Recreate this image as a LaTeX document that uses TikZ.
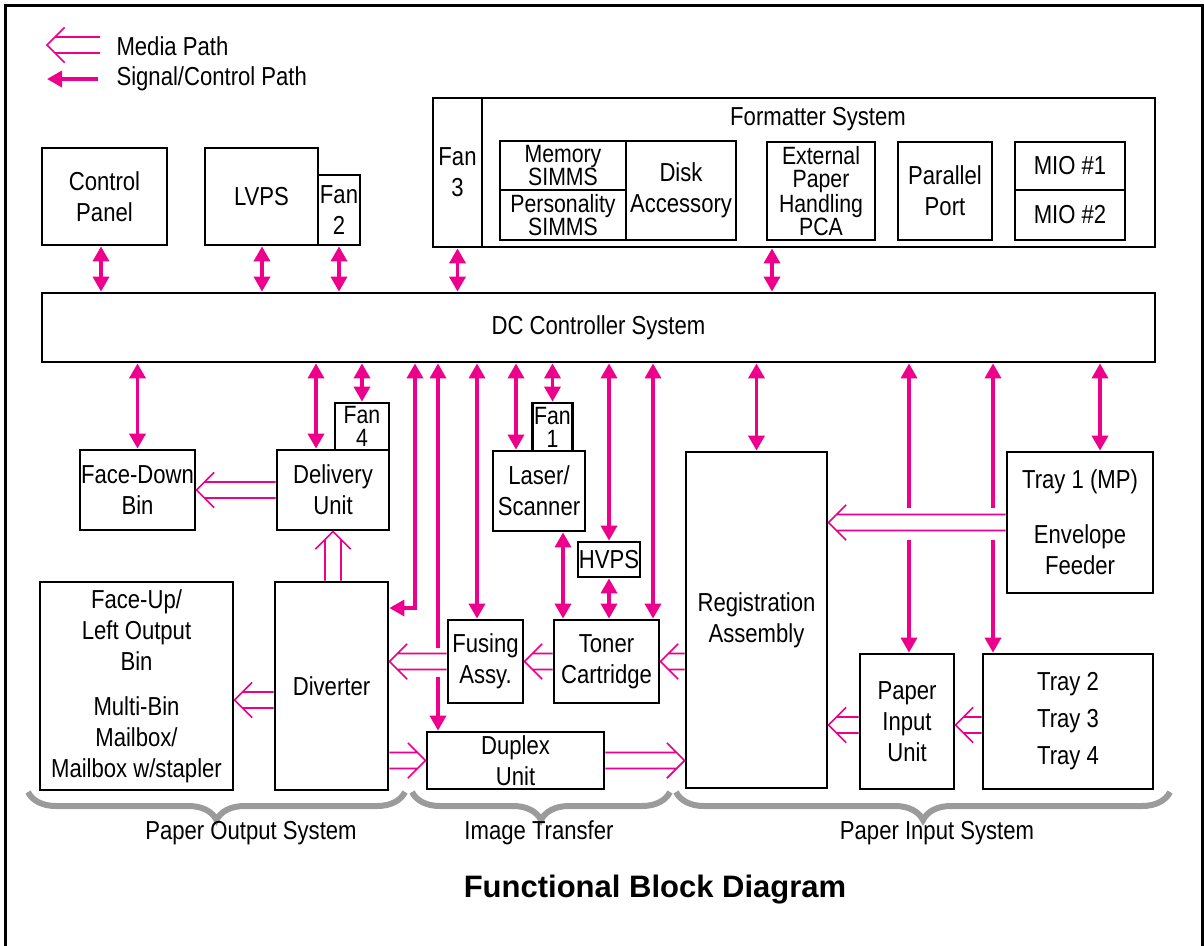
\documentclass[tikz,border=0pt]{standalone}
\usepackage{fontspec}
\setmainfont{Liberation Sans}[FakeStretch=0.85]
\newfontfamily\titlefont{Liberation Sans}
\usepackage{tikz}
\usetikzlibrary{arrows.meta,calc,decorations.pathreplacing}
\definecolor{FBPink}{HTML}{EC008C}
\definecolor{FBBrace}{HTML}{9B9B9B}
\tikzset{
  box/.style={draw, line width=2.8pt, align=center, inner sep=0pt},
  tight/.style={font=\fontsize{25}{23}\selectfont},
  sig/.style={draw=FBPink, line width=3.5pt, >={Triangle[length=15pt,width=16pt]}},
  media/.style={draw=FBPink, line width=1.6pt, to path={
    ($(\tikztostart)!8pt!90:(\tikztotarget)$) -- ($(\tikztotarget)!8pt!(\tikztostart)!8pt!-90:(\tikztostart)$)
    ($(\tikztostart)!8pt!-90:(\tikztotarget)$) -- ($(\tikztotarget)!8pt!(\tikztostart)!8pt!90:(\tikztostart)$)
    ($(\tikztotarget)!25pt!45:(\tikztostart)$) -- (\tikztotarget) -- ($(\tikztotarget)!25pt!-45:(\tikztostart)$)}},
  brace/.style={draw=FBBrace, line width=6pt, decorate, decoration={brace, mirror, amplitude=28pt}},
}

\begin{document}
\begin{tikzpicture}[x=1pt,y=-1pt,font=\fontsize{26}{31}\selectfont]
\useasboundingbox (0,0) rectangle (1204,945);
\draw[line width=3pt] (5.5,950) -- (5.5,5.5) -- (1202.5,5.5) -- (1202.5,950);

\coordinate (lm0) at (100,45);
\coordinate (lm1) at (47,45);
\draw[media] (lm0) to (lm1);
\node[anchor=west] (lmtxt) at (113,46) {Media Path};
\coordinate (ls0) at (98,79);
\coordinate (ls1) at (47,79);
\draw[sig,->] (ls0) -- (ls1);
\node[anchor=west] (lstxt) at (113,79) {Signal/Control Path};

\node[box,minimum width=125pt,minimum height=97pt] (ctrl) at (104.5,196.5) {Control\\Panel};
\node[box,minimum width=113pt,minimum height=97pt] (lvps) at (261.5,196.5) {LVPS};
\node[box,minimum width=42pt,minimum height=70pt] (fan2) at (339,210) {Fan\\2};
\node[box,minimum width=49pt,minimum height=149pt] (fan3) at (457.5,172.5) {Fan\\3};
\node[box,minimum width=673pt,minimum height=149pt] (fmt) at (818.5,172.5) {};
\node (fmtname) at (818,119) {Formatter System};
\node[box,tight,minimum width=126pt,minimum height=49pt] (mem) at (563,165.5) {Memory\\SIMMS};
\node[box,tight,minimum width=126pt,minimum height=50pt] (pers) at (563,215) {Personality\\SIMMS};
\node[box,minimum width=110pt,minimum height=99pt] (disk) at (681,190.5) {Disk\\Accessory};
\node[box,tight,minimum width=108pt,minimum height=98pt] (ext) at (821,191) {External\\Paper\\Handling\\PCA};
\node[box,minimum width=94pt,minimum height=98pt] (par) at (945,191) {Parallel\\Port};
\node[box,minimum width=110pt,minimum height=48pt] (mio1) at (1070,166) {MIO \#1};
\node[box,minimum width=110pt,minimum height=50pt] (mio2) at (1070,215) {MIO \#2};

\node[box,minimum width=1113pt,minimum height=69pt] (dc) at (598.5,327.5) {DC Controller System};

\node[box,minimum width=115pt,minimum height=80pt] (fdbin) at (137.5,490) {Face-Down\\Bin};
\node[box,minimum width=112pt,minimum height=80pt] (deliv) at (333,490) {Delivery\\Unit};
\node[box,tight,minimum width=54pt,minimum height=47pt] (fan4) at (362,426.5) {Fan\\4};
\node[box,tight,minimum width=40pt,minimum height=48pt] (fan1) at (552.5,427) {Fan\\1};
\node[box,minimum width=92pt,minimum height=80pt] (laser) at (539,491) {Laser/\\Scanner};
\node[box,minimum width=62pt,minimum height=35pt] (hvps) at (609,559.5) {HVPS};
\node[box,minimum width=193pt,minimum height=208pt] (faceup) at (136.5,686) {Face-Up/\\Left Output\\Bin\\[14pt]Multi-Bin\\Mailbox/\\Mailbox w/stapler};
\node[box,minimum width=113pt,minimum height=208pt] (diverter) at (331.5,686) {Diverter};
\node[box,minimum width=75pt,minimum height=83pt] (fusing) at (485.5,661.5) {Fusing\\Assy.};
\node[box,minimum width=105pt,minimum height=83pt] (toner) at (606.5,661.5) {Toner\\Cartridge};
\node[box,minimum width=177pt,minimum height=57pt] (duplex) at (515.5,760.5) {Duplex\\Unit};
\node[box,minimum width=141pt,minimum height=336pt] (reg) at (756.5,620) {Registration\\Assembly};
\node[box,minimum width=146pt,minimum height=141pt] (tray1) at (1080,522.5) {Tray 1 (MP)\\[24pt]Envelope\\Feeder};
\node[box,minimum width=94pt,minimum height=135pt] (piu) at (907,721.5) {Paper\\Input\\Unit};
\node[box,minimum width=170pt,minimum height=135pt] (trays) at (1068,721.5) {Tray 2\\[6pt]Tray 3\\[6pt]Tray 4};

\draw[sig,<->] (ctrl.south -| 101,0) -- (dc.north -| 101,0);
\draw[sig,<->] (lvps.south -| 262,0) -- (dc.north -| 262,0);
\draw[sig,<->] (fan2.south) -- (fan2.south |- dc.north);
\draw[sig,<->] (fan3.south) -- (fan3.south |- dc.north);
\draw[sig,<->] (fmt.south -| 772,0) -- (dc.north -| 772,0);

\coordinate (gapa) at (438,648);
\coordinate (gapb) at (438,677);
\coordinate (gapc) at (909,508);
\coordinate (gapd) at (909,540);
\coordinate (gape) at (993,508);
\coordinate (gapf) at (993,540);
\draw[sig,<->] (dc.south -| fdbin.north) -- (fdbin.north);
\draw[sig,<->] (dc.south -| 316,0) -- (deliv.north -| 316,0);
\draw[sig,<->] (dc.south -| fan4.north) -- (fan4.north);
\draw[sig,<->] (dc.south -| 415,0) |- (diverter.east |- 0,608);
\draw[sig,<-] (dc.south -| gapa) -- (gapa);
\draw[sig,->] (gapb) -- (duplex.north -| gapb);
\draw[sig,<->] (dc.south -| 477,0) -- (fusing.north -| 477,0);
\draw[sig,<->] (dc.south -| 516,0) -- (laser.north -| 516,0);
\draw[sig,<->] (dc.south -| fan1.north) -- (fan1.north);
\draw[sig,<->] (dc.south -| hvps.north) -- (hvps.north);
\draw[sig,<->] (dc.south -| 653,0) -- (toner.north -| 653,0);
\draw[sig,<->] (laser.south -| 563,0) -- (toner.north -| 563,0);
\draw[sig,<->] (hvps.south) -- (hvps.south |- toner.north);
\draw[sig,<->] (dc.south -| reg.north) -- (reg.north);
\draw[sig,<-] (dc.south -| gapc) -- (gapc);
\draw[sig,->] (gapd) -- (piu.north -| gapd);
\draw[sig,<-] (dc.south -| gape) -- (gape);
\draw[sig,->] (gapf) -- (trays.north -| gapf);
\draw[sig,<->] (dc.south -| 1100,0) -- (tray1.north -| 1100,0);

\draw[media] (deliv.west) to (fdbin.east);
\draw[media] (diverter.north -| deliv.south) to (deliv.south);
\draw[media] (diverter.west |- 0,700) to (faceup.east |- 0,700);
\draw[media] (fusing.west) to (fusing.west -| diverter.east);
\draw[media] (toner.west) to (fusing.east);
\draw[media] (reg.west |- toner.east) to (toner.east);
\draw[media] (diverter.east |- duplex.west) to (duplex.west);
\draw[media] (duplex.east) to (duplex.east -| reg.west);
\draw[media] (tray1.west) to (tray1.west -| reg.east);
\draw[media] (trays.west |- 0,725) to (piu.east |- 0,725);
\draw[media] (piu.west |- 0,725) to (reg.east |- 0,725);

\draw[brace] (28,792) -- (405,792);
\draw[brace] (412,792) -- (670,792);
\draw[brace] (676,792) -- (1170,792);
\node (lblout) at (251,833) {Paper Output System};
\node (lbltrans) at (539,833) {Image Transfer};
\node (lblin) at (937,833) {Paper Input System};

\node[font=\titlefont\bfseries\fontsize{31}{36}\selectfont] (title) at (655,890) {Functional Block Diagram};
\end{tikzpicture}
\end{document}
